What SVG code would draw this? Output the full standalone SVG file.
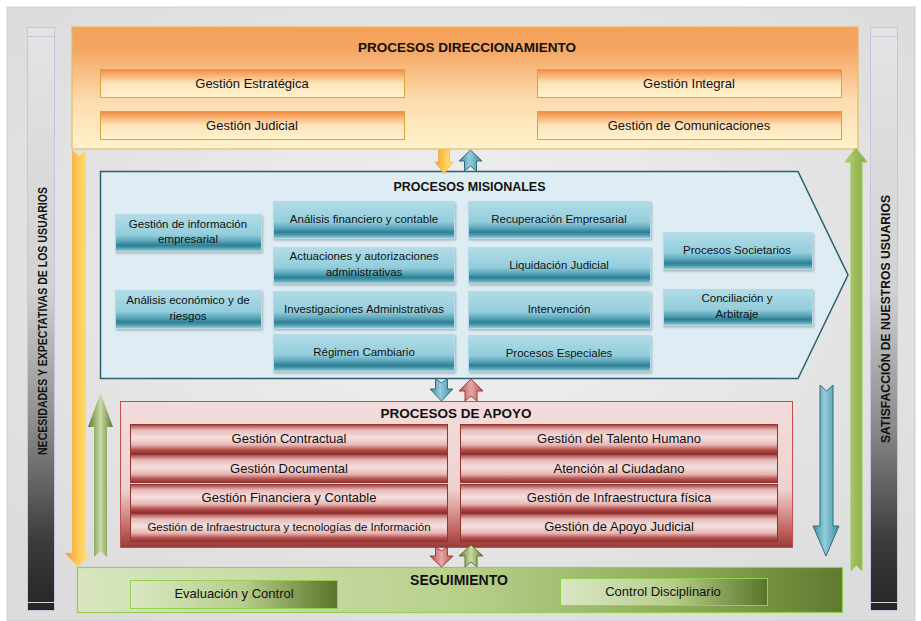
<svg xmlns="http://www.w3.org/2000/svg" width="921" height="621" viewBox="0 0 921 621">
<defs>
<radialGradient id="bg" cx="50%" cy="45%" r="65%"><stop offset="0" stop-color="#f2f2f2"/><stop offset="1" stop-color="#dcdcdc"/></radialGradient>
<linearGradient id="sideBar" x1="0" y1="0" x2="0" y2="1"><stop offset="0" stop-color="#e4e4e4"/><stop offset="0.45" stop-color="#d2d2d2"/><stop offset="0.68" stop-color="#8c8c8c"/><stop offset="0.88" stop-color="#3c3c3c"/><stop offset="1" stop-color="#252525"/></linearGradient>
<linearGradient id="orangeBig" x1="0" y1="0" x2="0" y2="1"><stop offset="0" stop-color="#f4a05a"/><stop offset="0.18" stop-color="#f5a663"/><stop offset="0.6" stop-color="#fcdcae"/><stop offset="1" stop-color="#fff2cd"/></linearGradient>
<linearGradient id="orangeSmall" x1="0" y1="0" x2="0" y2="1"><stop offset="0" stop-color="#f08a3e"/><stop offset="0.15" stop-color="#f5a868"/><stop offset="0.5" stop-color="#fde4bc"/><stop offset="1" stop-color="#fff2cc"/></linearGradient>
<linearGradient id="teal" x1="0" y1="0" x2="0" y2="1"><stop offset="0" stop-color="#b2dce7"/><stop offset="0.55" stop-color="#93cddc"/><stop offset="0.72" stop-color="#5aa6ba"/><stop offset="0.83" stop-color="#2f7f94"/><stop offset="0.9" stop-color="#4c98ac"/><stop offset="1" stop-color="#a0d3e0"/></linearGradient>
<linearGradient id="pinkBig" x1="0" y1="0" x2="0" y2="1"><stop offset="0" stop-color="#f2dcdb"/><stop offset="0.6" stop-color="#efd2d0"/><stop offset="0.85" stop-color="#c76f6c"/><stop offset="1" stop-color="#9a3a37"/></linearGradient>
<linearGradient id="redSmall" x1="0" y1="0" x2="0" y2="1"><stop offset="0" stop-color="#a8403d"/><stop offset="0.2" stop-color="#e8bcba"/><stop offset="0.45" stop-color="#f4e0df"/><stop offset="0.7" stop-color="#e7b7b5"/><stop offset="0.88" stop-color="#b24c48"/><stop offset="1" stop-color="#933532"/></linearGradient>
<linearGradient id="greenBig" x1="0" y1="0" x2="1" y2="0"><stop offset="0" stop-color="#d8e5bf"/><stop offset="0.5" stop-color="#b9d08c"/><stop offset="0.8" stop-color="#8ba955"/><stop offset="1" stop-color="#5f7a2e"/></linearGradient>
<linearGradient id="greenSmall" x1="0" y1="0" x2="1" y2="0"><stop offset="0" stop-color="#dbe7c4"/><stop offset="0.55" stop-color="#b6cd8a"/><stop offset="1" stop-color="#5a7429"/></linearGradient>
<linearGradient id="orangeArrow" x1="0" y1="0" x2="1" y2="0"><stop offset="0" stop-color="#f79a3a"/><stop offset="0.6" stop-color="#ffd25e"/><stop offset="1" stop-color="#ffdf80"/></linearGradient>
<linearGradient id="blueArrow" x1="0" y1="0" x2="1" y2="0"><stop offset="0" stop-color="#3b8a9e"/><stop offset="0.45" stop-color="#93cddd"/><stop offset="1" stop-color="#3d8ba0"/></linearGradient>
<linearGradient id="redArrow" x1="0" y1="0" x2="1" y2="0"><stop offset="0" stop-color="#b5514d"/><stop offset="0.5" stop-color="#e6a9a6"/><stop offset="1" stop-color="#b5514d"/></linearGradient>
<linearGradient id="greenArrow" x1="0" y1="0" x2="1" y2="0"><stop offset="0" stop-color="#5f7a2e"/><stop offset="0.5" stop-color="#c9dca4"/><stop offset="1" stop-color="#5f7a2e"/></linearGradient>
<linearGradient id="greenArrow2" x1="0" y1="0" x2="1" y2="0"><stop offset="0" stop-color="#b6d57c"/><stop offset="0.5" stop-color="#9bbb59"/><stop offset="1" stop-color="#8aaa4c"/></linearGradient>
<filter id="sh" x="-5%" y="-5%" width="110%" height="120%"><feDropShadow dx="1" dy="1.5" stdDeviation="1" flood-color="#000" flood-opacity="0.25"/></filter>
</defs>
<style>
.t{font-family:"Liberation Sans",Arial,sans-serif;fill:#111;text-anchor:middle}
.ttl{font-weight:bold;font-size:13.5px}
.o{font-size:13px}
.m{font-size:11.5px}
.a{font-size:13px}
.side{font-weight:bold;font-size:12.5px}
.ob{fill:url(#orangeSmall);stroke:#d9a53a;stroke-width:1}
.tb{fill:url(#teal);stroke:#b5dde8;stroke-width:1}
.rb{fill:url(#redSmall);stroke:#8f3431;stroke-width:1}
</style>

<rect x="7" y="7" width="908" height="614" fill="url(#bg)" stroke="#cfcfcf"/>

<g id="side-left">
<rect x="27.5" y="27.5" width="27" height="583" fill="url(#sideBar)" stroke="#c9c3dc"/>
<line x1="27.5" y1="36.5" x2="54.5" y2="36.5" stroke="#c9c3dc"/>
<line x1="27.5" y1="602.5" x2="54.5" y2="602.5" stroke="#d8d4e6"/>
<text class="t side" transform="translate(47,321) rotate(-90)" textLength="268" lengthAdjust="spacingAndGlyphs">NECESIDADES Y EXPECTATIVAS DE LOS USUARIOS</text>
</g>
<g id="side-right">
<rect x="870.5" y="27.5" width="27" height="583" fill="url(#sideBar)" stroke="#c9c3dc"/>
<line x1="870.5" y1="36.5" x2="897.5" y2="36.5" stroke="#c9c3dc"/>
<line x1="870.5" y1="602.5" x2="897.5" y2="602.5" stroke="#d8d4e6"/>
<text class="t side" transform="translate(889.5,319) rotate(-90)" textLength="248" lengthAdjust="spacingAndGlyphs">SATISFACCIÓN DE NUESTROS USUARIOS</text>
</g>

<g id="direccionamiento">
<rect x="72" y="27" width="786" height="122" fill="url(#orangeBig)" stroke="#e3bb62" stroke-width="1.2"/>
<text class="t ttl" x="467" y="52">PROCESOS DIRECCIONAMIENTO</text>
<g id="gestion-estrategica"><rect class="ob" x="100.5" y="69.5" width="304" height="28"/><text class="t o" x="252" y="88">Gestión Estratégica</text></g>
<g id="gestion-judicial"><rect class="ob" x="100.5" y="111.5" width="304" height="28"/><text class="t o" x="252" y="130">Gestión Judicial</text></g>
<g id="gestion-integral"><rect class="ob" x="537.5" y="69.5" width="304" height="28"/><text class="t o" x="689" y="88">Gestión Integral</text></g>
<g id="gestion-comunicaciones"><rect class="ob" x="537.5" y="111.5" width="304" height="28"/><text class="t o" x="689" y="130">Gestión de Comunicaciones</text></g>
</g>

<g id="misionales">
<path d="M100.5,171.5 L798,171.5 L848,275 L798,378.5 L100.5,378.5 Z" fill="#deedf3" stroke="#2f5f6d" stroke-width="1.5"/>
<text class="t ttl" x="469.5" y="191" style="font-size:12.5px">PROCESOS MISIONALES</text>
<g id="gestion-informacion"><rect class="tb" x="115.5" y="214.5" width="146" height="37" filter="url(#sh)"/><text class="t m" x="188" y="228">Gestión de información</text><text class="t m" x="188" y="243">empresarial</text></g>
<g id="analisis-economico"><rect class="tb" x="115.5" y="290.5" width="146" height="38" filter="url(#sh)"/><text class="t m" x="188" y="304">Análisis económico y de</text><text class="t m" x="188" y="320">riesgos</text></g>
<g id="analisis-financiero"><rect class="tb" x="273.5" y="201.5" width="181" height="37" filter="url(#sh)"/><text class="t m" x="364" y="223">Análisis financiero y contable</text></g>
<g id="actuaciones"><rect class="tb" x="273.5" y="247.5" width="181" height="36" filter="url(#sh)"/><text class="t m" x="364" y="260">Actuaciones y autorizaciones</text><text class="t m" x="364" y="276">administrativas</text></g>
<g id="investigaciones"><rect class="tb" x="273.5" y="291.5" width="181" height="37" filter="url(#sh)"/><text class="t m" x="364" y="313">Investigaciones Administrativas</text></g>
<g id="regimen-cambiario"><rect class="tb" x="273.5" y="334.5" width="181" height="37" filter="url(#sh)"/><text class="t m" x="364" y="356">Régimen Cambiario</text></g>
<g id="recuperacion"><rect class="tb" x="468.5" y="201.5" width="182" height="37" filter="url(#sh)"/><text class="t m" x="559" y="223">Recuperación Empresarial</text></g>
<g id="liquidacion"><rect class="tb" x="468.5" y="247.5" width="182" height="36" filter="url(#sh)"/><text class="t m" x="559" y="269">Liquidación Judicial</text></g>
<g id="intervencion"><rect class="tb" x="468.5" y="291.5" width="182" height="37" filter="url(#sh)"/><text class="t m" x="559" y="313">Intervención</text></g>
<g id="procesos-especiales"><rect class="tb" x="468.5" y="335.5" width="182" height="36" filter="url(#sh)"/><text class="t m" x="559" y="357">Procesos Especiales</text></g>
<g id="procesos-societarios"><rect class="tb" x="663.5" y="232.5" width="149" height="37" filter="url(#sh)"/><text class="t m" x="737" y="254">Procesos Societarios</text></g>
<g id="conciliacion"><rect class="tb" x="663.5" y="289.5" width="149" height="36" filter="url(#sh)"/><text class="t m" x="737" y="302">Conciliación y</text><text class="t m" x="737" y="318">Arbitraje</text></g>
</g>

<g id="apoyo">
<rect x="120.5" y="401.5" width="672" height="146" fill="url(#pinkBig)" stroke="#c0504d" stroke-width="1"/>
<text class="t ttl" x="456" y="418">PROCESOS DE APOYO</text>
<g id="gestion-contractual"><rect class="rb" x="130.5" y="424.5" width="317" height="29"/><text class="t a" x="289" y="443">Gestión Contractual</text></g>
<g id="gestion-documental"><rect class="rb" x="130.5" y="454.5" width="317" height="28"/><text class="t a" x="289" y="473">Gestión Documental</text></g>
<g id="gestion-financiera"><rect class="rb" x="130.5" y="484.5" width="317" height="28"/><text class="t a" x="289" y="502">Gestión Financiera y Contable</text></g>
<g id="gestion-infra-tec"><rect class="rb" x="130.5" y="513.5" width="317" height="28"/><text class="t" x="289" y="531" style="font-size:11.5px">Gestión de Infraestructura y tecnologías de Información</text></g>
<g id="talento-humano"><rect class="rb" x="460.5" y="424.5" width="317" height="29"/><text class="t a" x="619" y="443">Gestión del Talento Humano</text></g>
<g id="atencion-ciudadano"><rect class="rb" x="460.5" y="454.5" width="317" height="28"/><text class="t a" x="619" y="473">Atención al Ciudadano</text></g>
<g id="infra-fisica"><rect class="rb" x="460.5" y="484.5" width="317" height="28"/><text class="t a" x="619" y="502">Gestión de Infraestructura física</text></g>
<g id="apoyo-judicial"><rect class="rb" x="460.5" y="513.5" width="317" height="28"/><text class="t a" x="619" y="531">Gestión de Apoyo Judicial</text></g>
</g>

<g id="seguimiento">
<rect x="77.5" y="567.5" width="765" height="45" fill="url(#greenBig)" stroke="#92d050" stroke-width="1.2"/>
<text class="t ttl" x="459" y="585" style="font-size:14px">SEGUIMIENTO</text>
<g id="evaluacion-control"><rect x="130.5" y="580.5" width="207" height="28" fill="url(#greenSmall)" stroke="#92d050"/><text class="t a" x="234" y="598">Evaluación y Control</text></g>
<g id="control-disciplinario"><rect x="560.5" y="578.5" width="207" height="27" fill="url(#greenSmall)" stroke="#92d050"/><text class="t a" x="663" y="596">Control Disciplinario</text></g>
</g>

<g id="connectors">
<path d="M438.5,150 L449.5,150 L449.5,162 L453,162 L444,174 L435,162 L438.5,162 Z" fill="url(#orangeArrow)" stroke="#f0a030" stroke-width="0.5"/>
<path d="M470.5,150 L482,161 L476.5,161 L476.5,171 L470.5,166 L464.5,171 L464.5,161 L459,161 Z" fill="url(#blueArrow)" stroke="#2f6f80" stroke-width="1"/>
<path d="M435.5,378.5 L441.5,383 L447.5,378.5 L447.5,389 L453,389 L441.5,401 L430,389 L435.5,389 Z" fill="url(#blueArrow)" stroke="#2f6f80" stroke-width="1"/>
<path d="M471,379 L483,391 L477,391 L477,401 L471,396 L465,401 L465,391 L459,391 Z" fill="url(#redArrow)" stroke="#a03c38" stroke-width="1"/>
<path d="M435.5,547 L441.5,551 L447.5,547 L447.5,556 L453,556 L441.5,567 L430,556 L435.5,556 Z" fill="url(#redArrow)" stroke="#a03c38" stroke-width="1"/>
<path d="M471,545 L483,556 L477,556 L477,567 L471,562 L465,567 L465,556 L459,556 Z" fill="url(#greenArrow)" stroke="#5f7a2e" stroke-width="1"/>
<path d="M72,150 L79,156 L86,150 L86,553 L91,553 L78,567 L65,553 L72,553 Z" fill="url(#orangeArrow)"/>
<path d="M100.5,393 L113,427 L107,427 L107,557 L100.5,551 L94,557 L94,427 L88,427 Z" fill="url(#greenArrow)"/>
<path d="M820,385 L826.5,391 L833,385 L833,526 L839,526 L826,556 L813,526 L820,526 Z" fill="url(#blueArrow)" stroke="#2f6f80" stroke-width="1"/>
<path d="M856,148 L867,162 L862,162 L862,571 L856.5,565 L851,571 L851,162 L845,162 Z" fill="url(#greenArrow2)" stroke="#92d050" stroke-width="1"/>
</g>
</svg>
